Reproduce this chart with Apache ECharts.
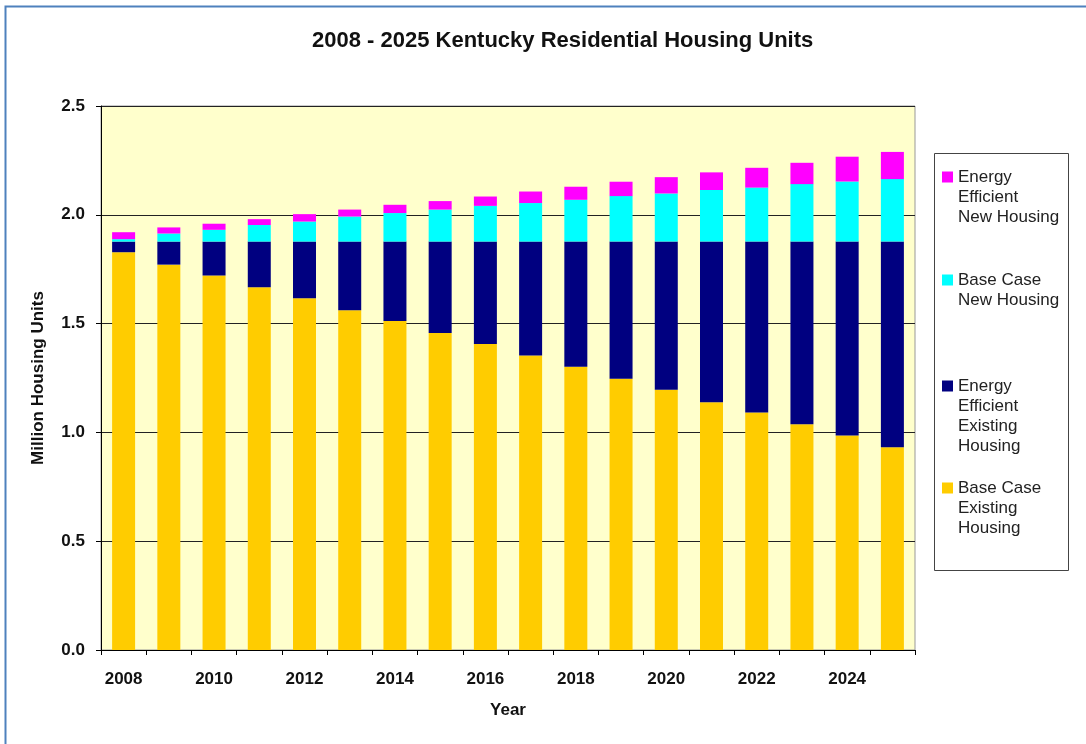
<!DOCTYPE html>
<html>
<head>
<meta charset="utf-8">
<script src="https://cdn.jsdelivr.net/npm/echarts@6/dist/echarts.min.js"></script>
<style>
html,body{margin:0;padding:0;background:#fff;}
#chart{width:1086px;height:744px;}
</style>
</head>
<body>
<div id="chart"></div>
<script>
const years = ['2008','2009','2010','2011','2012','2013','2014','2015','2016','2017','2018','2019','2020','2021','2022','2023','2024','2025'];
const baseExisting = [1.828,1.771,1.721,1.667,1.617,1.561,1.512,1.457,1.406,1.353,1.302,1.247,1.196,1.139,1.092,1.037,0.986,0.932];
const effExisting  = [0.049,0.106,0.156,0.210,0.260,0.316,0.365,0.420,0.471,0.524,0.575,0.630,0.681,0.738,0.785,0.840,0.891,0.945];
const baseNew      = [0.011,0.037,0.054,0.076,0.092,0.115,0.131,0.147,0.164,0.177,0.192,0.209,0.221,0.237,0.248,0.264,0.276,0.287];
const effNew       = [0.032,0.028,0.028,0.027,0.034,0.032,0.038,0.039,0.043,0.053,0.060,0.066,0.075,0.081,0.091,0.098,0.114,0.125];
const yTicks = [0, 0.5, 1.0, 1.5, 2.0, 2.5];

const names = {
  effNew: 'Energy Efficient New Housing',
  baseNew: 'Base Case New Housing',
  effEx: 'Energy Efficient Existing Housing',
  baseEx: 'Base Case Existing Housing'
};
const legendLabels = {};
legendLabels[names.effNew] = '\n\nEnergy\nEfficient\nNew Housing';
legendLabels[names.baseNew] = '\nBase Case\nNew Housing';
legendLabels[names.effEx] = '\n\n\nEnergy\nEfficient\nExisting\nHousing';
legendLabels[names.baseEx] = '\n\nBase Case\nExisting\nHousing';

const chart = echarts.init(document.getElementById('chart'), null, {renderer:'canvas'});
const font = 'Liberation Sans, Arial, sans-serif';

function mkLegend(name, top) {
  return {
    data: [name], left: 942, top: top, orient: 'vertical', padding: 0,
    itemWidth: 11, itemHeight: 11, icon: 'rect', selectedMode: false,
    formatter: function (n) { return legendLabels[n]; },
    textStyle: { fontFamily: font, fontSize: 17, lineHeight: 20, color: '#222' }
  };
}

const option = {
  animation: false,
  backgroundColor: '#fff',
  title: {
    text: '2008 - 2025 Kentucky Residential Housing Units',
    left: 307, top: 25,
    textStyle: { fontFamily: font, fontSize: 22, fontWeight: 'bold', color: '#111' }
  },
  graphic: [
    { type: 'rect', left: 3, top: 4, shape: { width: 1100, height: 760 }, style: { fill: 'none', stroke: '#4F81BD', lineWidth: 2 }, z: 100 },
    { type: 'rect', left: 934, top: 153, shape: { width: 134, height: 417 }, style: { fill: '#fff', stroke: '#444', lineWidth: 1 }, z: 0 }
  ],
  legend: [
    mkLegend(names.effNew, 127),
    mkLegend(names.baseNew, 250),
    mkLegend(names.effEx, 316),
    mkLegend(names.baseEx, 438)
  ],
  grid: {
    left: 101, right: 171, top: 106, bottom: 94,
    show: true, backgroundColor: '#FFFFCC', borderColor: '#999', borderWidth: 1
  },
  xAxis: {
    type: 'category', data: years,
    name: 'Year', nameLocation: 'middle', nameGap: 52,
    nameTextStyle: { fontFamily: font, fontSize: 17, fontWeight: 'bold', color: '#111' },
    axisLine: { lineStyle: { color: '#000', width: 1 } },
    axisTick: { show: true, interval: 0, length: 5, lineStyle: { color: '#000' } },
    axisLabel: { interval: 1, fontFamily: font, fontSize: 17, fontWeight: 'bold', color: '#111', margin: 21 },
    splitLine: { show: false }
  },
  yAxis: {
    type: 'value', min: 0, max: 2.5, interval: 0.5,
    name: 'Million Housing Units', nameLocation: 'middle', nameRotate: 90, nameGap: 54,
    nameTextStyle: { fontFamily: font, fontSize: 17, fontWeight: 'bold', color: '#111' },
    axisLine: { show: true, lineStyle: { color: '#000', width: 1 } },
    axisTick: { show: true, length: 5, lineStyle: { color: '#000' } },
    axisLabel: { fontFamily: font, fontSize: 17, fontWeight: 'bold', color: '#111', margin: 16,
      formatter: function (v) { return yTicks.indexOf(v) >= 0 ? v.toFixed(1) : ''; } },
    splitLine: { show: true, lineStyle: { color: '#222', width: 1 } }
  },
  series: [
    { name: names.baseEx, type: 'bar', stack: 'all', data: baseExisting, barWidth: 23, itemStyle: { color: '#FFCC00' } },
    { name: names.effEx, type: 'bar', stack: 'all', data: effExisting, barWidth: 23, itemStyle: { color: '#000080' } },
    { name: names.baseNew, type: 'bar', stack: 'all', data: baseNew, barWidth: 23, itemStyle: { color: '#00FFFF' } },
    { name: names.effNew, type: 'bar', stack: 'all', data: effNew, barWidth: 23, itemStyle: { color: '#FF00FF' } }
  ]
};
chart.setOption(option);
</script>
</body>
</html>
